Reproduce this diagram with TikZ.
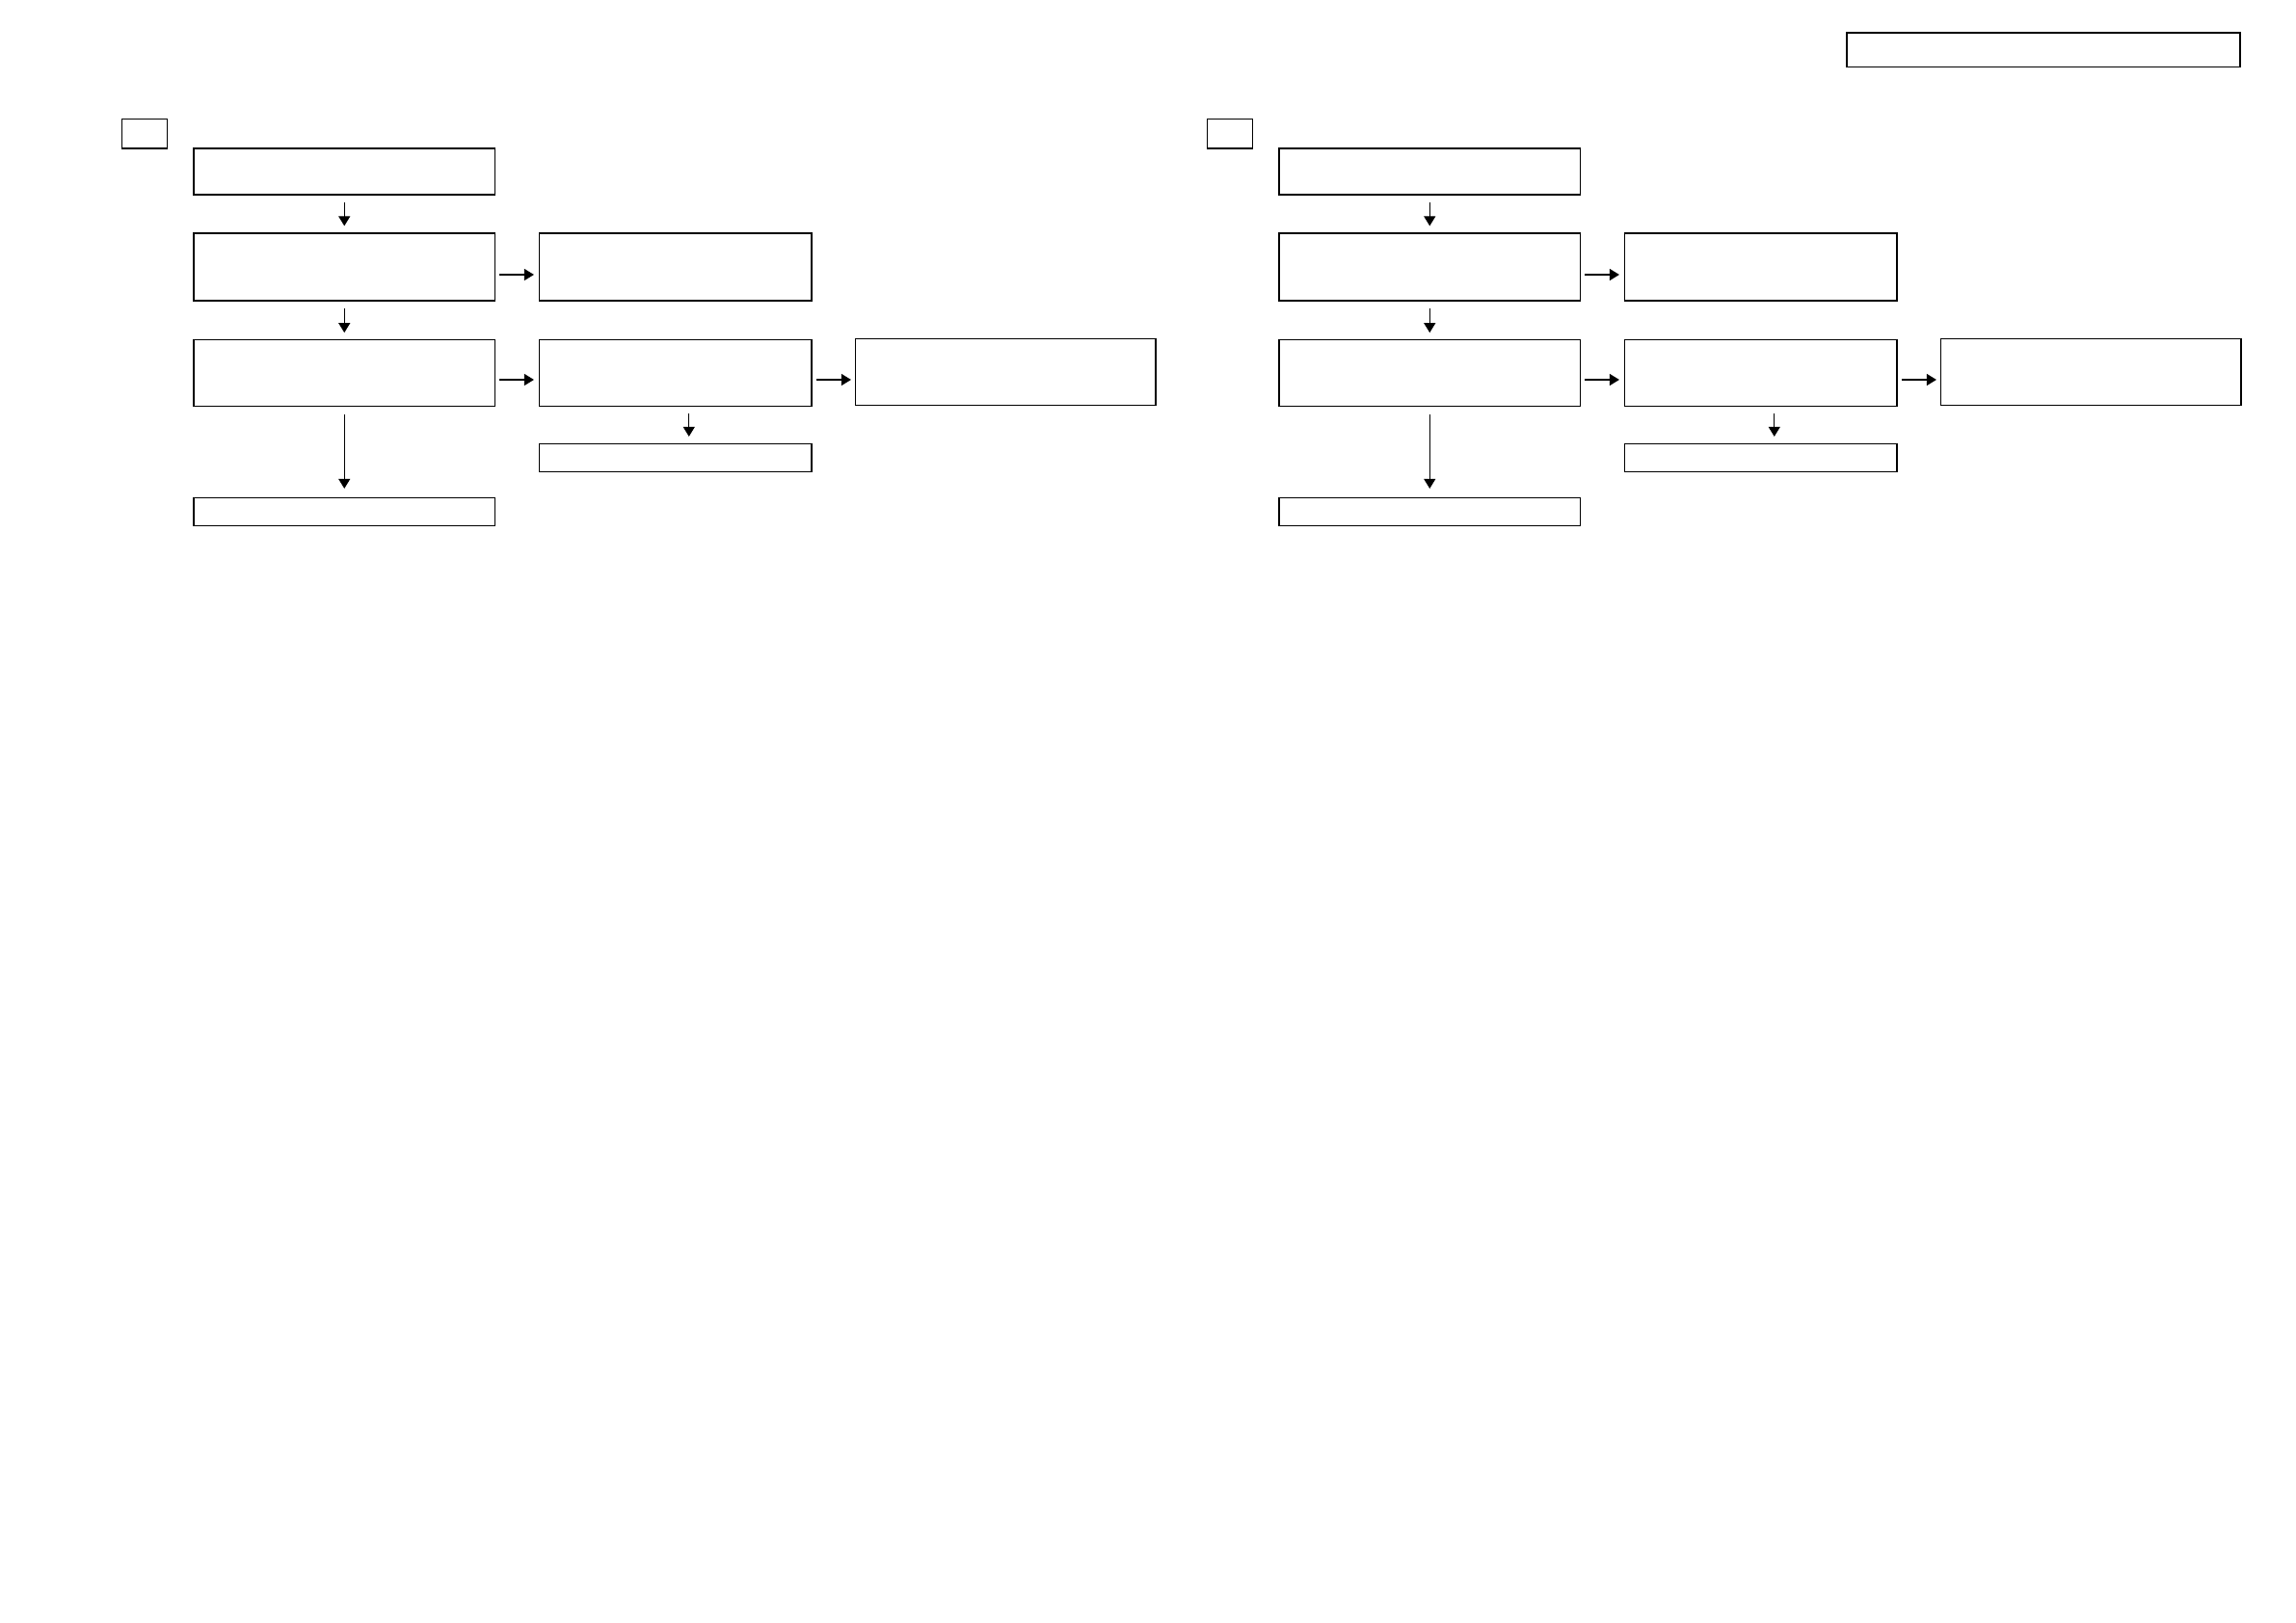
\documentclass[tikz,border=0pt]{standalone}
\usetikzlibrary{arrows.meta}
\begin{document}
\begin{tikzpicture}[box/.style={draw,line width=.34pt,inner sep=0pt,minimum width=3.125cm},arr/.style={-{Triangle[length=.1cm,width=.12cm]},line width=.3pt,shorten <=.07cm,shorten >=.07cm}]
\useasboundingbox (0,0) rectangle (23.82,-16.84);
\node[box,minimum width=4.08cm,minimum height=.355cm] (title) at (21.2,-.5175) {};
% two panels, same layout
\foreach \p/\dx in {l/0,r/11.26}{
\node[box,minimum width=.47cm,minimum height=.305cm] (tag\p) at (1.5+\dx,-1.3875) {};
\node[box,minimum height=.48cm] (a1\p) at (3.5725+\dx,-1.78) {};
\node[box,minimum height=.70cm] (a2\p) at (3.5725+\dx,-2.77) {};
\node[box,minimum height=.685cm] (a3\p) at (3.5725+\dx,-3.87) {};
\node[box,minimum height=.29cm] (a4\p) at (3.5725+\dx,-5.31) {};
\node[box,minimum width=2.825cm,minimum height=.70cm] (b2\p) at (7.0075+\dx,-2.77) {};
\node[box,minimum width=2.825cm,minimum height=.685cm] (b3\p) at (7.0075+\dx,-3.87) {};
\node[box,minimum width=2.825cm,minimum height=.29cm] (b4\p) at (7.0075+\dx,-4.75) {};
\node[box,minimum width=3.115cm,minimum height=.69cm] (c3\p) at (10.4325+\dx,-3.86) {};
\draw[arr] (a1\p) -- (a2\p);
\draw[arr] (a2\p) -- (a3\p);
\draw[arr,shorten <=.08cm,shorten >=.09cm] (a3\p) -- (a4\p);
\draw[arr,shorten <=.04cm,shorten >=.05cm] ([yshift=-.08cm]a2\p.east) -- ([yshift=-.08cm]b2\p.west);
\draw[arr,shorten <=.04cm,shorten >=.05cm] ([yshift=-.07cm]a3\p.east) -- ([yshift=-.07cm]b3\p.west);
\draw[arr,shorten <=.04cm,shorten >=.04cm] ([yshift=-.07cm]b3\p.east) -- ([yshift=-.07cm]b3\p.east -| c3\p.west);
\draw[arr] ([xshift=.14cm]b3\p.south) -- ([xshift=.14cm]b4\p.north);
}
\end{tikzpicture}
\end{document}
